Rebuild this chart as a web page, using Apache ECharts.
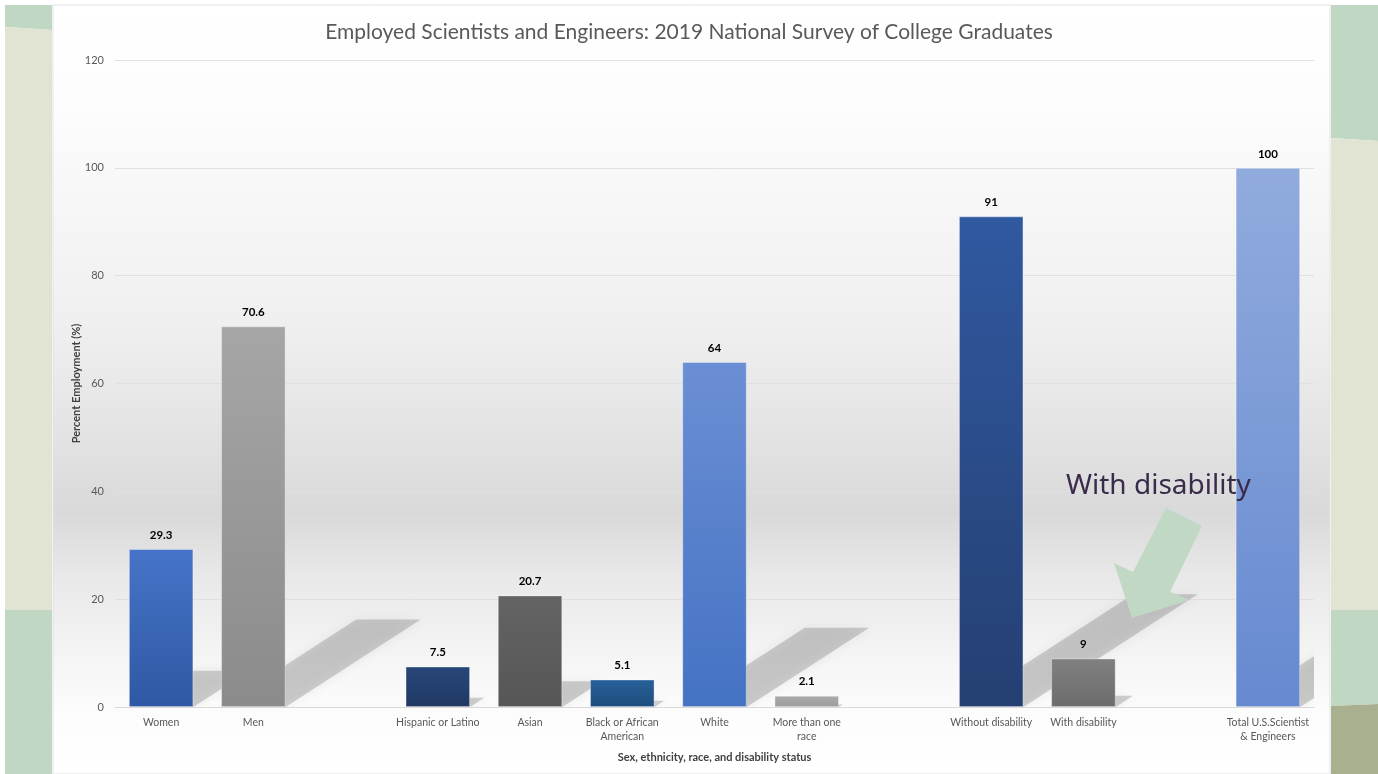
<!DOCTYPE html>
<html>
<head>
<meta charset="utf-8">
<script src="https://cdn.jsdelivr.net/npm/echarts@6/dist/echarts.min.js"></script>
<style>
html,body{margin:0;padding:0;background:#ffffff;}
#chart{width:1378px;height:774px;}
</style>
</head>
<body>
<div id="chart"></div>
<script>
var categories = ['Women', 'Men', '', 'Hispanic or Latino', 'Asian', 'Black or African\nAmerican', 'White', 'More than one\nrace', '', 'Without disability', 'With disability', '', 'Total U.S.Scientist\n& Engineers'];
var values = [29.3, 70.6, null, 7.5, 20.7, 5.1, 64, 2.1, null, 91, 9, null, 100];
var topColors = ['#4674c8', '#a6a6a6', null, '#274679', '#646464', '#27609a', '#6b8fd4', '#ababab', null, '#3059a0', '#808080', null, '#91abdd'];
var bottomColors = ['#2f58a4', '#8b8b8b', null, '#203963', '#565656', '#1f4e7d', '#4472c4', '#9c9c9c', null, '#253f72', '#6c6c6c', null, '#6689d0'];
var yTicks = [0, 20, 40, 60, 80, 100, 120];

var chart = echarts.init(document.getElementById('chart'));

var barData = values.map(function (v, i) {
  if (v === null) return null;
  return {
    value: v,
    itemStyle: {
      color: new echarts.graphic.LinearGradient(0, 0, 0, 1, [
        { offset: 0, color: topColors[i] },
        { offset: 1, color: bottomColors[i] }
      ])
    }
  };
});

var shadowData = values.map(function (v, i) { return [i, v === null ? 0 : v]; });

var option = {
  animation: false,
  graphic: [
    { type: 'rect', z: -10, silent: true, shape: { x: 0, y: 0, width: 1378, height: 774 }, style: { fill: '#ffffff' } },
    { type: 'rect', z: -9, silent: true, shape: { x: 53, y: 5, width: 1277, height: 769 },
      style: {
        fill: new echarts.graphic.LinearGradient(0, 0, 0, 1, [
          { offset: 0, color: '#ffffff' },
          { offset: 0.12, color: '#fdfdfd' },
          { offset: 0.42, color: '#efefef' },
          { offset: 0.55, color: '#e4e4e4' },
          { offset: 0.66, color: '#d9d9d9' },
          { offset: 0.74, color: '#e8e8e8' },
          { offset: 0.86, color: '#f6f6f6' },
          { offset: 0.93, color: '#fdfdfd' },
          { offset: 1, color: '#ffffff' }
        ]),
        stroke: '#e2e2e2', lineWidth: 1
      } },
    // left decorative panel
    { type: 'polygon', z: -8, silent: true, shape: { points: [[5, 5], [52, 5], [52, 30], [5, 27]] }, style: { fill: '#c0d7c4' } },
    { type: 'polygon', z: -8, silent: true, shape: { points: [[5, 27], [52, 30], [52, 610], [5, 610]] }, style: { fill: '#e2e4d3' } },
    { type: 'polygon', z: -8, silent: true, shape: { points: [[5, 610], [52, 610], [52, 774], [5, 774]] }, style: { fill: '#c0d7c4' } },
    // right decorative panel
    { type: 'polygon', z: -8, silent: true, shape: { points: [[1331, 5], [1378, 5], [1378, 141], [1331, 138]] }, style: { fill: '#c0d7c4' } },
    { type: 'polygon', z: -8, silent: true, shape: { points: [[1331, 138], [1378, 141], [1378, 610], [1331, 610]] }, style: { fill: '#e2e4d3' } },
    { type: 'polygon', z: -8, silent: true, shape: { points: [[1331, 610], [1378, 610], [1378, 704], [1331, 706]] }, style: { fill: '#c0d7c4' } },
    { type: 'polygon', z: -8, silent: true, shape: { points: [[1331, 706], [1378, 704], [1378, 774], [1331, 774]] }, style: { fill: '#a9b08f' } },
    // annotation
    { type: 'text', z: 50, silent: true, left: 1066, top: 472,
      style: { text: 'With disability', font: '28px "Noto Sans"', fill: '#3b2b4b' } },
    { type: 'polygon', z: 50, silent: true,
      shape: { points: [[1166, 508], [1202, 526], [1170, 592], [1190, 600], [1132, 618], [1114, 563], [1133, 572]] },
      style: { fill: '#c1d8c5' } }
  ],
  title: {
    text: 'Employed Scientists and Engineers: 2019 National Survey of College Graduates',
    left: 'center',
    top: 17,
    textStyle: { fontFamily: 'Lato', fontSize: 21, fontWeight: 'normal', color: '#595959' }
  },
  grid: { left: 115, right: 64, top: 60, bottom: 67 },
  xAxis: {
    type: 'category',
    data: categories,
    name: 'Sex, ethnicity, race, and disability status',
    nameLocation: 'middle',
    nameGap: 45,
    nameMoveOverlap: false,
    nameTextStyle: { fontFamily: 'Lato', fontSize: 11, fontWeight: 'bold', color: '#404040' },
    axisLine: { lineStyle: { color: '#d9d9d9' } },
    axisTick: { show: false },
    axisLabel: { interval: 0, margin: 9, fontFamily: 'Lato', fontSize: 10.5, color: '#595959', lineHeight: 14 }
  },
  yAxis: {
    type: 'value',
    min: 0,
    max: 120,
    interval: 20,
    name: 'Percent Employment (%)',
    nameLocation: 'middle',
    nameGap: 33,
    nameMoveOverlap: false,
    nameTextStyle: { fontFamily: 'Lato', fontSize: 11, fontWeight: 'bold', color: '#404040' },
    axisLine: { show: false },
    axisTick: { show: false },
    axisLabel: { margin: 11, fontFamily: 'Lato', fontSize: 11, color: '#595959',
      formatter: function (v) { return yTicks.indexOf(v) >= 0 ? String(v) : ''; } },
    splitLine: { lineStyle: { color: '#e0e0e0' } }
  },
  series: [
    {
      type: 'custom',
      z: 1,
      clip: true,
      silent: true,
      data: shadowData,
      renderItem: function (params, api) {
        var v = api.value(1);
        if (!v) return null;
        var base = api.coord([api.value(0), 0]);
        var top = api.coord([api.value(0), v]);
        var w = api.size([1, 0])[0] * 0.7;
        var h = base[1] - top[1];
        var dx = h * 0.355;
        var dy = h * 0.23;
        var xl = base[0] - w / 2, xr = base[0] + w / 2, y0 = base[1];
        return {
          type: 'polygon',
          shape: { points: [[xl, y0], [xr, y0], [xr + dx, y0 - dy], [xl + dx, y0 - dy]] },
          style: { fill: 'rgba(110,110,110,0.3)', shadowBlur: 10, shadowColor: 'rgba(110,110,110,0.35)' }
        };
      }
    },
    {
      type: 'bar',
      z: 3,
      barCategoryGap: '30%',
      data: barData,
      itemStyle: { borderColor: 'rgba(255,255,255,0.35)', borderWidth: 1 },
      label: {
        show: true,
        position: 'top',
        distance: 8,
        fontFamily: 'Lato',
        fontSize: 11.5,
        fontWeight: 'bold',
        color: '#000000'
      }
    }
  ]
};
chart.setOption(option);
</script>
</body>
</html>
